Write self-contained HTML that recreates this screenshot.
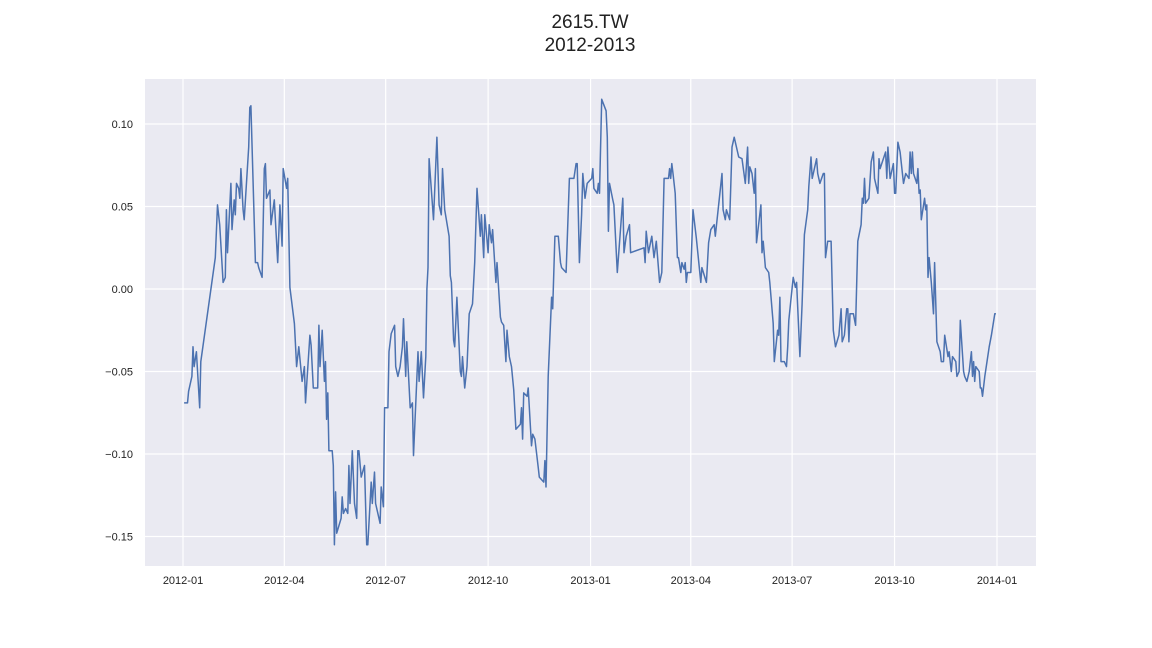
<!DOCTYPE html>
<html><head><meta charset="utf-8"><style>
body{margin:0;background:#fff;}
svg{display:block;font-family:"Liberation Sans",sans-serif;}
</style></head><body>
<svg id="chart" width="1152" height="648" viewBox="0 0 1152 648">
<text x="590" y="28" text-anchor="middle" font-size="19" fill="#222">2615.TW</text>
<text x="590" y="51" text-anchor="middle" font-size="19" fill="#222">2012-2013</text>
<rect x="145" y="79" width="891" height="487" fill="#eaeaf2"/>
<g id="grid"></g>
<g id="ticks"></g>
<path id="line" fill="none" stroke="#4c72b0" stroke-width="1.5" stroke-linejoin="round"/>
</svg>
<script>
const days=[1,4,5,8,9,10,12,15,16,29,31,33,36,38,39,40,43,44,46,47,48,50,51,52,54,55,59,60,61,65,67,68,71,73,74,75,78,79,82,85,87,89,90,93,94,96,100,102,104,107,109,110,114,115,117,121,122,123,125,127,128,129,130,131,134,135,136,137,138,142,143,144,146,148,149,150,152,154,156,157,158,160,163,165,166,169,170,172,173,177,178,180,181,184,185,187,190,191,193,195,197,198,200,201,204,206,207,211,212,214,216,218,219,220,221,225,228,230,232,233,235,239,240,241,243,244,246,249,250,251,253,255,257,260,262,264,267,268,270,271,274,275,277,278,281,282,285,286,288,290,291,293,295,297,299,303,304,305,306,309,310,313,314,316,319,320,324,325,326,328,331,332,334,337,339,340,344,347,351,353,354,356,358,359,361,363,367,368,369,372,373,374,376,380,381,382,383,386,387,390,395,396,398,401,402,414,415,416,418,421,423,425,428,430,432,436,437,438,439,440,442,444,445,447,448,450,451,452,453,456,458,461,465,466,470,472,474,477,478,484,485,487,488,491,493,495,499,502,505,507,508,509,511,513,514,515,519,520,521,523,526,527,530,531,534,535,536,537,540,542,543,544,548,550,551,554,556,558,561,562,564,565,569,570,572,575,576,577,579,582,584,586,589,591,592,594,596,597,598,599,602,604,606,609,610,611,612,613,616,618,620,621,624,625,626,631,632,633,635,638,639,640,642,644,647,649,652,653,654,655,656,659,660,661,662,663,666,667,668,669,670,672,674,675,677,680,681,683,684,687,688,690,691,694,695,697,698,701,702,704,706,708,709,710,711,712,715,716,717,718,720,722,724,726,729,730];
const values=[-.069,-.069,-.062,-.053,-.035,-.047,-.038,-.072,-.044,.019,.051,.039,.004,.007,.048,.022,.064,.036,.054,.045,.064,.061,.055,.073,.048,.042,.086,.110,.111,.016,.016,.013,.007,.073,.076,.055,.060,.039,.054,.016,.051,.026,.073,.061,.067,.001,-.021,-.047,-.035,-.056,-.047,-.069,-.028,-.034,-.060,-.060,-.022,-.047,-.025,-.056,-.044,-.079,-.063,-.098,-.098,-.107,-.155,-.123,-.148,-.139,-.126,-.136,-.133,-.136,-.107,-.130,-.098,-.130,-.139,-.098,-.098,-.114,-.107,-.155,-.155,-.117,-.130,-.111,-.130,-.142,-.120,-.132,-.072,-.072,-.038,-.027,-.022,-.047,-.053,-.047,-.035,-.018,-.053,-.032,-.072,-.069,-.101,-.038,-.056,-.038,-.066,-.041,.000,.013,.079,.042,.092,.051,.045,.073,.048,.032,.008,.004,-.031,-.035,-.005,-.050,-.053,-.041,-.060,-.047,-.015,-.009,.016,.061,.032,.045,.019,.045,.022,.039,.028,.036,.004,.016,-.017,-.020,-.022,-.044,-.025,-.041,-.047,-.061,-.085,-.082,-.072,-.091,-.063,-.065,-.060,-.095,-.088,-.091,-.108,-.114,-.117,-.104,-.120,-.053,-.005,-.012,.032,.032,.016,.013,.010,.067,.067,.076,.076,.016,.045,.070,.055,.064,.067,.073,.061,.058,.064,.058,.115,.108,.092,.035,.064,.054,.051,.010,.055,.022,.032,.039,.022,.025,.016,.035,.022,.032,.019,.029,.004,.010,.067,.067,.073,.067,.076,.070,.058,.019,.019,.010,.016,.012,.016,.004,.010,.010,.048,.031,.004,.013,.004,.028,.036,.039,.032,.070,.048,.042,.048,.042,.086,.092,.080,.079,.064,.086,.064,.074,.070,.058,.073,.028,.051,.022,.029,.013,.010,.004,-.021,-.044,-.025,-.028,-.005,-.044,-.044,-.047,-.035,-.019,.007,.001,.004,-.041,-.009,.033,.048,.062,.080,.067,.079,.070,.064,.070,.070,.019,.029,.029,-.025,-.035,-.028,-.012,-.032,-.028,-.012,-.012,-.032,-.015,-.015,-.022,.029,.039,.055,.052,.067,.052,.055,.077,.083,.067,.058,.079,.073,.083,.067,.086,.067,.076,.058,.058,.089,.083,.064,.070,.067,.083,.070,.083,.070,.064,.073,.058,.060,.042,.055,.048,.051,.007,.019,.004,-.015,.016,-.032,-.038,-.044,-.044,-.028,-.041,-.038,-.050,-.041,-.044,-.053,-.050,-.019,-.050,-.053,-.056,-.050,-.038,-.053,-.044,-.056,-.047,-.050,-.060,-.060,-.065,-.053,-.044,-.035,-.028,-.015,-.015];
const yTicks=[0.10,0.05,0.00,-0.05,-0.10,-0.15];
const yTickLabels=["0.10","0.05","0.00","\u22120.05","\u22120.10","\u22120.15"];
const xTickDays=[0,91,182,274,366,456,547,639,731];
const xTickLabels=["2012-01","2012-04","2012-07","2012-10","2013-01","2013-04","2013-07","2013-10","2014-01"];

const NS="http://www.w3.org/2000/svg";
const xS=d=>183+d*(814/731);
const yS=v=>289-v*1650;
const grid=document.getElementById('grid'),ticks=document.getElementById('ticks');
yTicks.forEach((v,i)=>{
  const l=document.createElementNS(NS,'line');
  
  
  l.setAttribute('x1',145);l.setAttribute('x2',1036);l.setAttribute('y1',yS(v));l.setAttribute('y2',yS(v));
  l.setAttribute('stroke','#fff');l.setAttribute('stroke-width','1.2');grid.appendChild(l);
  const t=document.createElementNS(NS,'text');
  
  
  t.setAttribute('x',133);t.setAttribute('y',yS(v)+4);t.setAttribute('text-anchor','end');
  t.setAttribute('font-size','11');t.setAttribute('fill','#222');t.textContent=yTickLabels[i];ticks.appendChild(t);
});
xTickDays.forEach((d,i)=>{
  const l=document.createElementNS(NS,'line');
  
  
  l.setAttribute('x1',xS(d));l.setAttribute('x2',xS(d));l.setAttribute('y1',79);l.setAttribute('y2',566);
  l.setAttribute('stroke','#fff');l.setAttribute('stroke-width','1.2');grid.appendChild(l);
  const t=document.createElementNS(NS,'text');
  
  
  t.setAttribute('x',xS(d));t.setAttribute('y',584);t.setAttribute('text-anchor','middle');
  t.setAttribute('font-size','11');t.setAttribute('fill','#222');t.textContent=xTickLabels[i];ticks.appendChild(t);
});
document.getElementById('line').setAttribute('d',days.map((d,i)=>(i?'L':'M')+xS(d).toFixed(1)+','+yS(values[i]).toFixed(1)).join(''));
</script>
</body></html>
